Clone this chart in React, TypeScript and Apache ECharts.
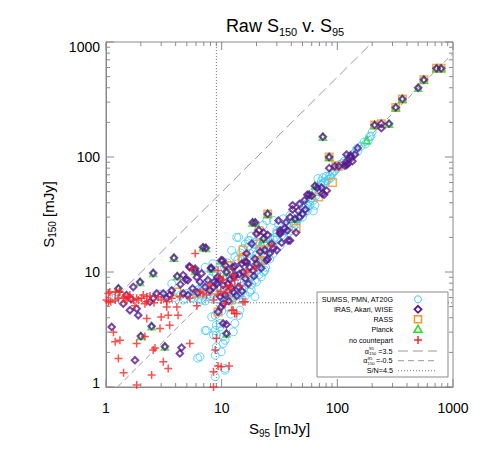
import React, { useEffect, useRef } from "react";
import * as echarts from "echarts";

// ---------- tick values ----------
const majorTicks = [1, 10, 100, 1000];
const minorTicks = [2, 3, 4, 5, 6, 7, 8, 9, 20, 30, 40, 50, 60, 70, 80, 90, 200, 300, 400, 500, 600, 700, 800, 900];

// ---------- data: [S95, S150] in mJy ----------
const sumss: number[][] = [
  [200, 165], [195, 152], [175, 130], [185, 140], [150, 112], [147, 118], [160, 124], [140, 108], [125, 100], [110, 88],
  [100, 80], [95, 76], [90, 71], [86, 69], [80, 68], [75, 66], [73, 62], [76, 60], [68, 65], [81, 62],
  [62, 34], [64, 38], [56, 37], [54, 38], [50, 39], [46, 29], [39, 29], [39, 31], [34, 29], [31, 26],
  [28, 28], [33, 23], [30, 22], [30, 23], [28, 19], [26, 20], [24, 17.6], [23, 18], [20, 18.2], [20, 17.6],
  [22, 16.5], [28, 16.4], [17.5, 18.8], [17, 16.5], [14, 20], [13.5, 20], [17, 18.8], [19.4, 17.4], [21.5, 16], [23, 14],
  [18.7, 15], [22.9, 14.5], [20.7, 12.2], [22, 11.8], [23.6, 10.3], [22, 9.1], [22.9, 10], [17.5, 11], [19.4, 8.5], [17.5, 6.7],
  [14.9, 7.2], [13.5, 8.5], [11.8, 9.1], [10.3, 9.4], [9.3, 8.5], [7.2, 11], [8.4, 11.8], [8.5, 10], [6.7, 5.7], [14.4, 6.3],
  [15.3, 5.7], [19.4, 6.1], [12.2, 15.4], [15.3, 16], [17.5, 14.5], [18.7, 12.2], [9.7, 6.3], [11.3, 6.7], [7.4, 6.1],
  [5.5, 6.0], [6.0, 6.6], [6.3, 5.8], [7.0, 7.2], [7.6, 6.4], [8.0, 5.9], [8.8, 6.8], [9.5, 7.5], [10.0, 6.0], [10.5, 7.0],
  [11.5, 6.2], [12.5, 5.9], [13, 6.8], [14, 5.8], [16, 6.2], [18, 7.0], [20, 8.2], [21, 9.5], [24, 11], [26, 13],
  [28, 14.5], [32, 17], [35, 19.5], [38, 22], [42, 25], [45, 28], [52, 33], [58, 41], [60, 44], [66, 50], [70, 55], [84, 64],
  [10.5, 5.5], [11, 6.0], [11.8, 5.6], [12.8, 6.4], [13.6, 7.0], [14.6, 6.6], [15.5, 7.6], [16.5, 8.2], [17.8, 9.2], [18.2, 7.8],
  [19, 9.8], [20.5, 10.5], [21, 11.4], [21.8, 13], [23, 12.5], [24, 13.8], [25, 15], [26, 16.5], [27, 18], [29, 20],
  [30, 19], [33, 21], [35, 23], [37, 25], [40, 23], [42, 27], [44, 26], [48, 31], [50, 30], [53, 36],
  [55, 34], [58, 38], [62, 42], [65, 46], [70, 50], [72, 58], [78, 60], [88, 66], [92, 74], [105, 86],
  [115, 92], [130, 98], [135, 104], [170, 135], [190, 150],
  [12, 8.0], [12.8, 9.6], [14.2, 10.5], [15.8, 11.6], [16.6, 13.2], [13.8, 12.8], [11.2, 12.0], [10.6, 11.0], [9.6, 10.4], [9.0, 9.6],
  [8.0, 8.8], [7.4, 8.0], [6.8, 7.6], [6.2, 7.0], [5.8, 6.9], [5.2, 6.2], [4.8, 5.9], [4.4, 6.3], [3.9, 6.0], [6.6, 6.3],
  [7.2, 5.6], [8.4, 6.4], [9.2, 5.8], [10.2, 6.6], [12.0, 7.1], [14.8, 8.0], [16.2, 9.0], [19.8, 14.0], [14.6, 14.6], [13.0, 13.6],
  [16.0, 17.5], [18.0, 20.5], [20.6, 22.5], [22.8, 25.5], [24.6, 28.0],
  [1.17, 5.9], [1.22, 6.0], [3.35, 6.3], [3.7, 7.9], [5.0, 6.5], [5.7, 5.9], [4.2, 6.7], [4.65, 5.7], [2.3, 6.0], [2.9, 6.4],
  [7.2, 3.1], [9.0, 3.45], [8.8, 3.1], [9.7, 3.33], [8.5, 2.83], [9.0, 2.83], [10.3, 2.73], [10.7, 2.55], [10.3, 2.39], [9.9, 2.02],
  [9.0, 2.24], [8.8, 1.89], [10.7, 1.45], [12.6, 3.02], [14.4, 4.65], [14.0, 4.2], [13.0, 3.57], [8.2, 4.07], [8.8, 4.2], [9.7, 3.57],
  [6.2, 1.78], [6.5, 1.83], [7.4, 3.1], [8.8, 1.23], [10.7, 1.4], [10.0, 4.6], [11.5, 4.9], [12.0, 4.3],
];

const iras: number[][] = [
  [720, 590], [790, 590], [560, 470], [500, 400], [365, 320], [320, 270], [210, 190], [240, 195], [240, 178], [280, 195], [75, 150],
  [150, 120], [120, 105], [131, 98], [142, 105], [116, 84], [123, 87], [130, 103], [85, 100], [135, 92], [118, 90], [120, 85],
  [95, 83], [103, 83], [85, 80], [64, 56], [67, 54], [73, 54], [81, 51], [74, 48], [77, 47], [55, 47], [60, 46], [57, 47],
  [52, 42], [47, 39], [41, 38], [46, 34], [41, 35], [25, 32], [43, 29], [39, 30], [36, 27], [47, 30], [31, 28], [35, 24],
  [37, 23], [32, 23], [32, 22], [21, 23], [25, 21], [23, 19.5], [39, 18.8], [37.5, 18.8], [27, 17.6], [30, 15.5],
  [18.5, 27], [19.5, 27], [20, 21.5], [23, 22], [32, 21.5], [21.5, 15], [23.6, 15.5], [25, 13],
  [16.4, 14.5], [18.2, 17.6], [19.4, 13], [15.9, 12.3], [24.5, 12.6], [17, 7.9], [13, 9.4], [11, 10], [9.7, 8.7], [10.2, 12.6],
  [8.1, 10.7], [5.3, 11], [5.9, 10.7], [4.65, 9.4], [5.1, 8.5], [6.5, 8.2], [8.5, 7.4],
  [8.1, 10.9], [6.7, 9.7], [9.9, 12.6], [13, 11.2], [14.9, 11.8], [16.4, 12.2], [17.5, 11], [18.7, 10.3], [15.3, 10], [14, 7.4],
  [12.6, 6.7], [12.2, 7.2], [10.7, 6.3], [9.7, 6.1], [10.3, 5.3], [11.3, 7.9], [10.3, 7.7], [9, 7.9], [7.6, 8.5], [7.9, 6.9],
  [11.8, 8.6], [12.8, 9.0], [14.2, 9.6], [16, 8.8], [13.5, 6.2], [15, 6.8], [11.5, 5.6], [12.5, 11.0], [10.8, 11.4], [9.2, 9.0],
  [8.6, 8.2], [7.2, 7.4], [6.2, 6.6], [5.6, 7.2], [4.4, 7.8], [20, 11.8], [22, 10.8], [19, 9.2], [26, 14.5], [28, 16],
  [33, 18], [44, 22], [50, 32], [53, 35],
  [2.56, 9.8], [4.13, 9.2], [4.9, 8.6], [5.9, 10.2], [6.1, 9], [1.97, 8.2], [1.72, 7.4], [1.28, 7.2], [2.74, 6.5], [3.13, 6.5],
  [3.57, 6.3], [3.7, 6.9], [3.35, 5.9], [4.66, 6.5], [5.1, 6.3], [1.41, 5.3], [2.4, 5.5], [2.56, 5.9], [3.87, 13.3], [5.25, 11.2],
  [6.9, 16.4], [7.3, 16.2], [1.5, 6.3], [1.65, 5.8],
  [1.61, 4.65], [1.84, 4.8], [1.9, 4.2], [1.12, 3.33], [2.48, 3.38], [2.0, 2.77], [3.23, 2.25], [4.5, 2.2], [4.35, 1.96], [1.78, 1.71],
  [9.3, 4.5], [10.3, 3.57], [11, 3.5], [11, 2.92], [9.9, 4.95],
];

const rass: number[][] = [
  [720, 590], [790, 590], [560, 470], [365, 320], [320, 270], [210, 190], [240, 195], [85, 100], [97, 84], [103, 83],
  [91, 60], [69, 45], [25, 32], [21, 23], [44, 24], [21.5, 17.6], [23, 15.5], [15.3, 15.5], [11.6, 11.4], [15, 13],
  [21.5, 12.6], [11.3, 11.4], [15.3, 13], [15.9, 9.7], [20.6, 12.6], [12.2, 5.7], [8.5, 7], [9.3, 4.5], [4.1, 6.7], [6.1, 6.5],
];

const planck: number[][] = [
  [720, 590], [790, 590], [560, 470], [500, 400], [365, 320], [320, 270], [210, 190], [280, 195], [180, 140], [130, 103],
  [75, 150], [57, 47], [25, 32], [6.9, 16.4], [7.3, 16.2], [3.87, 13.3], [2.56, 9.8], [4.13, 9.2], [1.97, 8.2], [1.28, 7.2],
  [2.48, 3.38], [2.0, 2.77], [3.23, 2.25], [11, 2.92], [9.9, 12.6], [5.9, 10.2], [18.5, 27], [19.5, 27], [8.1, 10.7], [11, 10],
  [64, 56], [85, 100], [23, 19.5], [43, 29],
];

const noCounterpart: number[][] = [
  [1.01, 5.7], [1.2, 5.7], [1.28, 5.9], [1.41, 5.9], [1.56, 6.1], [1.72, 5.7], [1.84, 5.9], [2.03, 5.9], [2.25, 5.5], [2.83, 6.1],
  [3.0, 5.7], [3.35, 5.5], [3.7, 5.9], [4.1, 4.95], [4.35, 6.1], [5.3, 5.9], [6.1, 5.1], [6.5, 6.7], [7.4, 6.3], [8.5, 5.7],
  [9.3, 6.3], [11, 7.4], [12.2, 7.7], [12.6, 4.65], [13.5, 4.35], [15.9, 5.5], [5.9, 14.5], [1.2, 6.7], [1.3, 6.7],
  [1.08, 6.7], [1.32, 6.7], [1.46, 6.1], [1.61, 6.3], [1.9, 5.7], [2.17, 5.3], [1.78, 5.1], [1.05, 5.5], [2.25, 6.1], [3.35, 4.95],
  [4.2, 4.2], [3.0, 4.07], [1.05, 6.5],
  [1.16, 3.0], [1.2, 2.47], [1.32, 2.55], [1.28, 1.77], [1.42, 1.33], [1.84, 1.04], [1.84, 2.39], [2.25, 3.95], [2.17, 2.75], [2.48, 1.27],
  [2.65, 2.18], [2.93, 3.22], [3.45, 4.2], [3.55, 3.45], [2.56, 2.1], [3.13, 1.66], [3.45, 1.45], [5.3, 2.39],
  [9.0, 2.65], [8.8, 2.1], [9.3, 1.52], [9.9, 1.5], [11.6, 1.52], [8.5, 1.36], [8.5, 1.0], [10.7, 5.3], [12.2, 4.65], [13, 4.35], [15.3, 5.5],
  [9.3, 10.3], [9.7, 9], [10.3, 8.5], [13, 8.5], [19.4, 10.7], [27, 17], [6.9, 6.5], [7.9, 7.7], [5.5, 10.7], [1.1, 5.5],
  [1.5, 5.6], [2.1, 6.3], [2.4, 6.2], [2.6, 5.4],
  [10.8, 6.6], [11.8, 7.0], [9.8, 6.8], [14.5, 7.6], [16.5, 10], [12.5, 9.5],
];

// reference lines (endpoints, mJy)
const alphaHighLine = [[1, 4.95], [202, 1000]]; // alpha = 3.5
const alphaLowLine = [[1.256, 1], [1000, 796]]; // alpha = -0.5
const snS95 = 9.0;
const snS150 = 5.4;

const legendLabels = ["SUMSS, PMN, AT20G", "IRAS, Akari, WISE", "RASS", "Planck", "no countepart"];
const alphaLabels = ["=3.5", "=-0.5"];
const snLabel = "S/N=4.5";

const CYAN = "#3cc8fa";
const PURPLE = "#58168c";
const ORANGE = "#f3962a";
const GREEN = "#22e022";
const RED = "#ff2424";
const AXIS = "#8a8a8a";
const FONT = '"Liberation Sans", Arial, Helvetica, sans-serif';

export default function App() {
  const ref = useRef<HTMLDivElement>(null);
  useEffect(() => {
    if (!ref.current) return;
    const chart = echarts.init(ref.current, undefined, { renderer: "svg" });

    const tickData: number[][] = [
      ...majorTicks.map((v) => [v, 1, 0, 8]),
      ...minorTicks.map((v) => [v, 1, 0, 4]),
      ...majorTicks.map((v) => [1, v, 1, 8]),
      ...minorTicks.map((v) => [1, v, 1, 4]),
    ];

    const lx = 393;
    const sx = 418;
    const rows = [299.3, 309.3, 319.3, 329.3, 340, 351, 360.7, 370.7];
    const txt = (text: string, x: number, y: number, size: number, align: string) => ({
      type: "text",
      z: 101,
      style: {
        text, x, y, fill: "#000", fontSize: size, fontFamily: FONT, lineHeight: size,
        textAlign: align, align, textVerticalAlign: "middle", verticalAlign: "middle",
      },
    });
    const graphic: any[] = [
      { type: "rect", z: 100, shape: { x: 317, y: 292, width: 131, height: 85 }, style: { fill: "#fff", stroke: AXIS, lineWidth: 1 } },
      ...legendLabels.map((t, i) => txt(t, lx, rows[i], 7.2, "right")),
      { type: "circle", z: 101, shape: { cx: sx, cy: rows[0], r: 3.5 }, style: { fill: "none", stroke: CYAN, lineWidth: 1 } },
      { type: "polygon", z: 101, shape: { points: [[sx, rows[1] - 3.5], [sx + 3.5, rows[1]], [sx, rows[1] + 3.5], [sx - 3.5, rows[1]]] }, style: { fill: "none", stroke: PURPLE, lineWidth: 1.8 } },
      { type: "rect", z: 101, shape: { x: sx - 3.5, y: rows[2] - 3.5, width: 7, height: 7 }, style: { fill: "none", stroke: ORANGE, lineWidth: 1.5 } },
      { type: "polygon", z: 101, shape: { points: [[sx, rows[3] - 4], [sx + 4, rows[3] + 3], [sx - 4, rows[3] + 3]] }, style: { fill: "none", stroke: GREEN, lineWidth: 1.5 } },
      { type: "line", z: 101, shape: { x1: sx - 4, y1: rows[4], x2: sx + 4, y2: rows[4] }, style: { stroke: RED, lineWidth: 1.5 } },
      { type: "line", z: 101, shape: { x1: sx, y1: rows[4] - 4, x2: sx, y2: rows[4] + 4 }, style: { stroke: RED, lineWidth: 1.5 } },
      // alpha rows
      txt("α", 369, rows[5], 7.2, "right"),
      txt("95", 369, rows[5] - 2.3, 4.3, "left"),
      txt("150", 369, rows[5] + 2.3, 4.3, "left"),
      txt(alphaLabels[0], 378.2, rows[5], 7.2, "left"),
      txt("α", 367.5, rows[6], 7.2, "right"),
      txt("95", 367.5, rows[6] - 2.3, 4.3, "left"),
      txt("150", 367.5, rows[6] + 2.3, 4.3, "left"),
      txt(alphaLabels[1], 376, rows[6], 7.2, "left"),
      txt(snLabel, lx, rows[7], 7.2, "right"),
      { type: "line", z: 101, shape: { x1: 398, y1: rows[5], x2: 437, y2: rows[5] }, style: { stroke: "#999", lineWidth: 1, lineDash: [10, 5] } },
      { type: "line", z: 101, shape: { x1: 398, y1: rows[6], x2: 437, y2: rows[6] }, style: { stroke: "#999", lineWidth: 1, lineDash: [6, 4] } },
      { type: "line", z: 101, shape: { x1: 398, y1: rows[7], x2: 437, y2: rows[7] }, style: { stroke: "#777", lineWidth: 1, lineDash: [1, 2] } },
    ];

    const open = (c: string, w: number) => ({ color: "transparent", borderColor: c, borderWidth: w });

    chart.setOption({
      animation: false,
      backgroundColor: "#fff",
      title: {
        text: "{m|Raw S}{s|150}{m| v. S}{s|95}",
        left: 280,
        top: 9,
        textAlign: "center",
        textStyle: {
          fontWeight: "normal",
          rich: {
            m: { fontSize: 18, fontFamily: FONT, color: "#000", fontWeight: "normal", lineHeight: 22 },
            s: { fontSize: 11, fontFamily: FONT, color: "#000", fontWeight: "normal", padding: [12, 0, 0, 0] },
          },
        },
      },
      grid: { left: 106, right: 32, top: 42, bottom: 68, show: true, borderColor: AXIS, borderWidth: 1, backgroundColor: "transparent" },
      xAxis: {
        type: "log", logBase: 10, min: 1, max: 1000,
        name: "{m|S}{s|95}{m| [mJy]}", nameLocation: "middle", nameGap: 32,
        nameTextStyle: {
          rich: {
            m: { fontSize: 15, fontFamily: FONT, color: "#000", lineHeight: 18 },
            s: { fontSize: 10, fontFamily: FONT, color: "#000", padding: [9, 0, 0, 0] },
          },
        },
        axisLine: { show: true, lineStyle: { color: AXIS } },
        axisTick: { show: false },
        splitLine: { show: false },
        axisLabel: { margin: 14, fontSize: 14, fontFamily: FONT, color: "#000", formatter: (v: number) => String(Math.round(v)) },
      },
      yAxis: {
        type: "log", logBase: 10, min: 1, max: 1000,
        name: "{m|S}{s|150}{m| [mJy]}", nameLocation: "middle", nameGap: 44,
        nameTextStyle: {
          rich: {
            m: { fontSize: 15, fontFamily: FONT, color: "#000", lineHeight: 18 },
            s: { fontSize: 10, fontFamily: FONT, color: "#000", padding: [9, 0, 0, 0] },
          },
        },
        axisLine: { show: true, lineStyle: { color: AXIS } },
        axisTick: { show: false },
        splitLine: { show: false },
        axisLabel: {
          margin: 6, fontSize: 14, fontFamily: FONT, color: "#000",
          formatter: (v: number) => {
            const r = Math.round(v);
            if (r === 1000) return "{top|1000}";
            if (r === 1) return "{bot|1}";
            return String(r);
          },
          rich: {
            top: { fontSize: 14, fontFamily: FONT, color: "#000", padding: [9, 0, 0, 0] },
            bot: { fontSize: 14, fontFamily: FONT, color: "#000", padding: [0, 0, 9, 0] },
          },
        },
      },
      graphic,
      series: [
        {
          type: "custom",
          z: 1,
          silent: true,
          data: tickData,
          renderItem: (params: any, api: any) => {
            const orient = api.value(2);
            const len = api.value(3);
            const st = { stroke: AXIS, lineWidth: 1 };
            if (orient === 0) {
              const v = api.value(0);
              const b = api.coord([v, 1]);
              const t = api.coord([v, 1000]);
              return {
                type: "group",
                children: [
                  { type: "line", shape: { x1: b[0], y1: b[1], x2: b[0], y2: b[1] - len }, style: st },
                  { type: "line", shape: { x1: t[0], y1: t[1], x2: t[0], y2: t[1] + len }, style: st },
                ],
              };
            }
            const v = api.value(1);
            const l = api.coord([1, v]);
            const r = api.coord([1000, v]);
            return {
              type: "group",
              children: [
                { type: "line", shape: { x1: l[0], y1: l[1], x2: l[0] + len, y2: l[1] }, style: st },
                { type: "line", shape: { x1: r[0], y1: r[1], x2: r[0] - len, y2: r[1] }, style: st },
              ],
            };
          },
        },
        { type: "line", z: 2, silent: true, showSymbol: false, data: [[snS95, 1], [snS95, 1000]], lineStyle: { color: "#777", width: 1, type: [1, 2] } },
        { type: "line", z: 2, silent: true, showSymbol: false, data: [[1, snS150], [1000, snS150]], lineStyle: { color: "#777", width: 1, type: [1, 2] } },
        { type: "line", z: 2, silent: true, showSymbol: false, data: alphaHighLine, lineStyle: { color: "#999", width: 1, type: [10, 5] } },
        { type: "line", z: 2, silent: true, showSymbol: false, data: alphaLowLine, lineStyle: { color: "#999", width: 1, type: [6, 4] } },
        { type: "scatter", z: 3, name: "SUMSS", data: sumss, symbol: "circle", symbolSize: 8, itemStyle: open(CYAN, 1) },
        { type: "scatter", z: 4, name: "RASS", data: rass, symbol: "rect", symbolSize: 7.5, itemStyle: open(ORANGE, 1.5) },
        { type: "scatter", z: 5, name: "Planck", data: planck, symbol: "triangle", symbolSize: 7, itemStyle: open(GREEN, 1.5) },
        { type: "scatter", z: 6, name: "IRAS", data: iras, symbol: "diamond", symbolSize: 6.5, itemStyle: open(PURPLE, 2) },
        { type: "scatter", z: 7, name: "none", data: noCounterpart, symbol: "path://M5,0L5,10M0,5L10,5", symbolSize: 8, itemStyle: open(RED, 1.5) },
      ],
    });
    return () => chart.dispose();
  }, []);
  return <div ref={ref} style={{ position: "absolute", left: 0, top: 0, width: 485, height: 455 }} />;
}
